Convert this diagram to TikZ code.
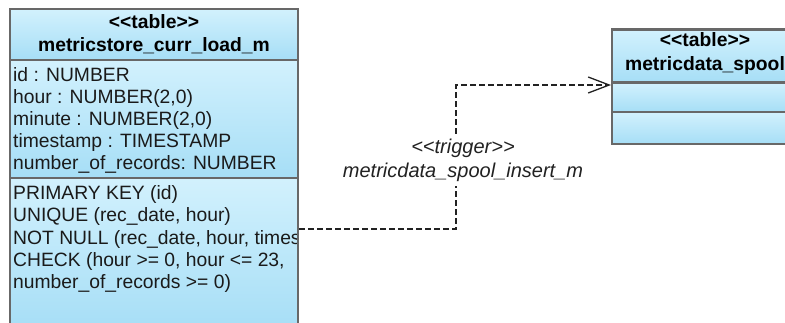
\documentclass[tikz,border=0pt]{standalone}
\usepackage{fontspec}
\setmainfont{Liberation Sans}
\usetikzlibrary{arrows.meta}

\definecolor{tabtop}{RGB}{210,241,253}
\definecolor{tabbot}{RGB}{166,222,246}
\definecolor{tabline}{RGB}{104,104,104}
\definecolor{linkcol}{RGB}{34,34,34}
\definecolor{inkcol}{RGB}{26,26,26}

% guillemet-free stereotype brackets (the kern keeps the TeX mapping from merging them)
\newcommand{\stopen}{<\kern0pt<}
\newcommand{\stclose}{>\kern0pt>}

\tikzset{
  compart/.style={draw=tabline, line width=2.4pt, top color=tabtop, bottom color=tabbot,
    inner sep=0pt, outer sep=0pt, anchor=north west},
  bodytext/.style={anchor=base west, inner sep=0pt, text=inkcol,
    font=\fontsize{19.3}{22}\selectfont},
  headtext/.style={anchor=base, inner sep=0pt, text=black,
    font=\bfseries\fontsize{19.3}{22}\selectfont},
  triglink/.style={draw=linkcol, line width=1.3pt, dash pattern=on 6pt off 3pt,
    -{Straight Barb[length=21pt,width=16pt]}},
  triglabel/.style={font=\itshape\fontsize{20}{24.5}\selectfont, text=linkcol,
    align=center, fill=white, inner sep=4pt}
}

\begin{document}
\begin{tikzpicture}[x=1pt,y=-1pt]
\clip (0,0) rectangle (785,322);
\fill[white] (0,0) rectangle (785,322);

% table metricstore_curr_load_m
\node[compart, minimum width=288pt, minimum height=51pt] (lhead) at (10,9) {};
\node[compart, minimum width=288pt, minimum height=118pt] (lattr) at (lhead.south west) {};
\node[compart, minimum width=288pt, minimum height=152pt] (lcons) at (lattr.south west) {};

\node[headtext] (lstereo) at (154,28.3) {\stopen table\stclose};
\node[headtext] (lname) at (154,51.7) {metricstore\_curr\_load\_m};

\node[bodytext] (la1) at (13,81) {id : NUMBER};
\node[bodytext] (la2) at (13,103) {hour : NUMBER(2,0)};
\node[bodytext] (la3) at (13,125) {minute : NUMBER(2,0)};
\node[bodytext] (la4) at (13,147) {timestamp : TIMESTAMP};
\node[bodytext] (la5) at (13,169) {number\_of\_records: NUMBER};

\begin{scope}
  \clip (lcons.north west) rectangle ([xshift=-1.2pt]lcons.south east);
  \node[bodytext] (lc1) at (13,199.5) {PRIMARY KEY (id)};
  \node[bodytext] (lc2) at (13,221.7) {UNIQUE (rec\_date, hour)};
  \node[bodytext] (lc3) at (13,244) {NOT NULL (rec\_date, hour, timestamp)};
  \node[bodytext] (lc4) at (13,266) {CHECK (hour >= 0, hour <= 23,};
  \node[bodytext] (lc5) at (13,288) {number\_of\_records >= 0)};
\end{scope}

% table metricdata_spool
\node[compart, minimum width=186pt, minimum height=53pt] (rhead) at (612,29.5) {};
\node[compart, minimum width=186pt, minimum height=29.5pt] (rattr) at (rhead.south west) {};
\node[compart, minimum width=186pt, minimum height=32pt] (rcons) at (rattr.south west) {};

\node[headtext] (rstereo) at (705,46) {\stopen table\stclose};
\node[headtext] (rname) at (705,70) {metricdata\_spool};

% trigger dependency
\coordinate (src) at ([xshift=1.2pt,yshift=-51pt]lcons.north east);
\coordinate (bend) at (456,85);
\coordinate (tgt) at ([xshift=-1pt]rattr.west |- bend);
\draw[triglink] (src) -| (bend) -- (tgt);
\node[triglabel] (tlabel) at (463,160.5) {\stopen trigger\stclose\\metricdata\_spool\_insert\_m};
\end{tikzpicture}
\end{document}
